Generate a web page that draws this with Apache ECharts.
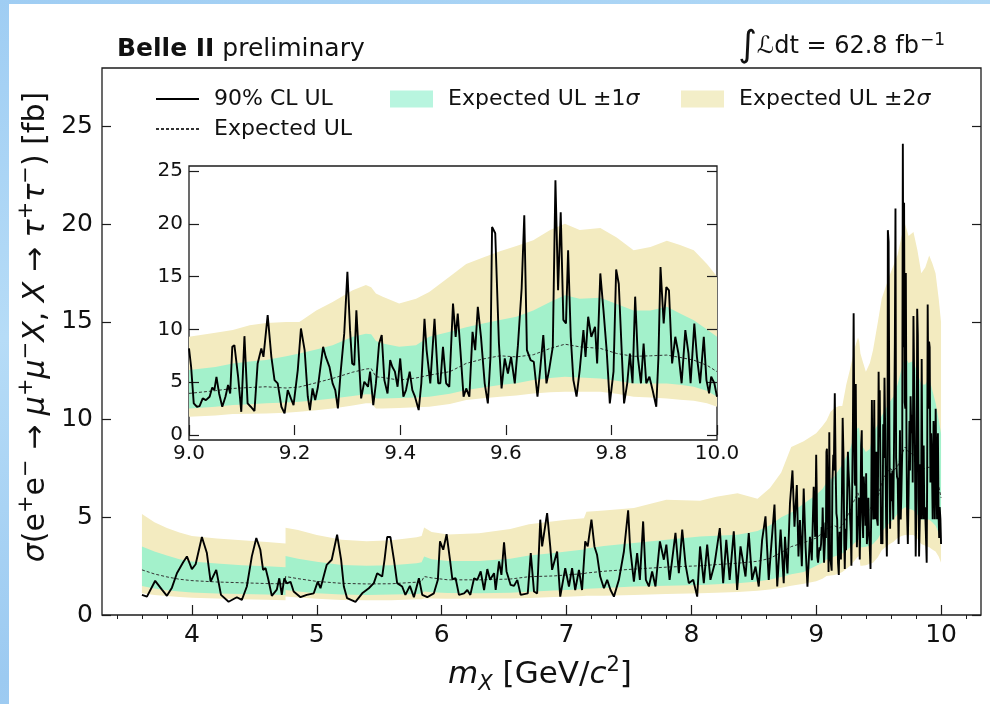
<!DOCTYPE html>
<html>
<head>
<meta charset="utf-8">
<script src="https://cdn.jsdelivr.net/npm/echarts@6/dist/echarts.min.js"></script>
<style>
  html, body { margin: 0; padding: 0; }
  body { width: 990px; height: 704px; overflow: hidden; position: relative;
         background: linear-gradient(165deg, #9fcdf3 0%, #b6dcf7 35%, #9ccaf1 70%, #a9d3f5 100%); }
  #panel { position: absolute; left: 9px; top: 4px; right: 0; bottom: 0; background: #fff; }
  #chart { position: absolute; left: 0; top: 0; width: 990px; height: 704px; }
</style>
</head>
<body>
<div id="panel"></div>
<div id="chart"></div>
<script>
// ---- Observed 90% CL upper limit [fb] vs m_X [GeV/c^2] ----
const massObs = [
  3.600, 3.640, 3.706, 3.760, 3.800, 3.840, 3.880, 3.930, 3.960, 4.000,
  4.030, 4.080, 4.120, 4.150, 4.195, 4.233, 4.294, 4.360, 4.400, 4.440,
  4.480, 4.516, 4.548, 4.570, 4.590, 4.610, 4.640, 4.680, 4.700, 4.720,
  4.740, 4.760, 4.790, 4.815, 4.870, 4.920, 4.976, 5.008, 5.030, 5.080,
  5.120, 5.163, 5.195, 5.217, 5.243, 5.310, 5.364, 5.417, 5.457, 5.484,
  5.524, 5.543, 5.564, 5.590, 5.618, 5.644, 5.684, 5.710, 5.746, 5.778,
  5.818, 5.845, 5.885, 5.938, 5.970, 5.987, 6.013, 6.040, 6.067, 6.086,
  6.112, 6.139, 6.180, 6.206, 6.230, 6.260, 6.286, 6.313, 6.340, 6.366,
  6.388, 6.420, 6.433, 6.460, 6.479, 6.500, 6.520, 6.553, 6.580, 6.606,
  6.633, 6.690, 6.714, 6.740, 6.765, 6.790, 6.805, 6.845, 6.870, 6.885,
  6.925, 6.950, 6.990, 7.020, 7.045, 7.070, 7.100, 7.125, 7.150, 7.170,
  7.200, 7.224, 7.245, 7.270, 7.300, 7.326, 7.353, 7.380, 7.420, 7.460,
  7.494, 7.510, 7.540, 7.566, 7.588, 7.614, 7.636, 7.660, 7.686, 7.713,
  7.748, 7.780, 7.800, 7.826, 7.845, 7.873, 7.900, 7.927, 7.954, 7.980,
  8.015, 8.047, 8.070, 8.100, 8.127, 8.153, 8.185, 8.228, 8.255, 8.280,
  8.307, 8.340, 8.367, 8.394, 8.434, 8.460, 8.487, 8.514, 8.540, 8.567,
  8.594, 8.620, 8.640, 8.666, 8.688, 8.715, 8.740, 8.750, 8.770, 8.790,
  8.810, 8.826, 8.845, 8.858, 8.870, 8.885, 8.900, 8.915, 8.930, 8.950,
  8.965, 8.980, 8.992,
  9.000, 9.004, 9.009, 9.015, 9.020, 9.026, 9.032, 9.039, 9.044, 9.048,
  9.052, 9.057, 9.063, 9.069, 9.074, 9.078, 9.082, 9.086, 9.093, 9.099,
  9.105, 9.111, 9.117, 9.124, 9.130, 9.137, 9.141, 9.149, 9.156, 9.162,
  9.168, 9.175, 9.181, 9.187, 9.193, 9.198, 9.206, 9.212, 9.219, 9.225,
  9.229, 9.234, 9.239, 9.244, 9.249, 9.254, 9.259, 9.266, 9.272, 9.277,
  9.282, 9.287, 9.294, 9.300, 9.305, 9.309, 9.313, 9.317, 9.323, 9.326,
  9.332, 9.339, 9.343, 9.349, 9.354, 9.360, 9.365, 9.370, 9.376, 9.381,
  9.385, 9.390, 9.395, 9.400, 9.406, 9.411, 9.418, 9.423, 9.428, 9.435,
  9.440, 9.446, 9.450, 9.457, 9.465, 9.472, 9.476, 9.481, 9.487, 9.493,
  9.500, 9.505, 9.509, 9.514, 9.520, 9.525, 9.531, 9.537, 9.542, 9.547,
  9.553, 9.560, 9.566, 9.571, 9.574, 9.580, 9.587, 9.592, 9.598, 9.604,
  9.610, 9.617, 9.623, 9.630, 9.635, 9.640, 9.647, 9.653, 9.660, 9.665,
  9.671, 9.677, 9.682, 9.689, 9.694, 9.699, 9.704, 9.709, 9.714, 9.718,
  9.723, 9.728, 9.734, 9.740, 9.747, 9.751, 9.756, 9.762, 9.769, 9.773,
  9.779, 9.785, 9.791, 9.797, 9.804, 9.809, 9.814, 9.820, 9.824, 9.830,
  9.835, 9.840, 9.845, 9.850, 9.856, 9.861, 9.866, 9.872, 9.878, 9.885,
  9.889, 9.893, 9.899, 9.904, 9.909, 9.915, 9.921, 9.927, 9.933, 9.940,
  9.946, 9.950, 9.957, 9.962, 9.968, 9.975, 9.980, 9.985, 9.989, 9.995,
  10.000
];
const ulObs = [
  1.03, 0.94, 1.75, 1.30, 0.98, 1.40, 2.14, 2.70, 3.00, 2.35,
  2.60, 3.99, 3.17, 1.71, 2.31, 1.03, 0.68, 0.91, 0.77, 1.46,
  3.00, 3.94, 3.34, 2.31, 2.40, 1.88, 0.98, 1.30, 1.88, 1.03,
  1.88, 1.62, 1.70, 1.20, 0.91, 1.03, 1.11, 1.71, 1.37, 2.57,
  2.83, 4.11, 2.83, 1.46, 0.86, 0.67, 1.11, 1.37, 1.63, 2.14,
  1.97, 2.83, 3.99, 3.99, 2.83, 1.63, 1.46, 1.03, 1.49, 0.91,
  1.88, 1.03, 0.91, 1.11, 1.80, 3.77, 3.34, 4.14, 2.83, 1.83,
  1.88, 1.03, 1.11, 1.28, 1.03, 1.88, 1.80, 2.23, 1.28, 2.35,
  1.80, 2.14, 1.28, 2.74, 2.05, 3.72, 2.23, 1.54, 1.49, 1.80,
  1.03, 1.11, 3.17, 1.20, 1.10, 4.88, 3.51, 5.22, 3.51, 2.31,
  3.25, 0.94, 2.40, 1.46, 2.40, 1.28, 2.31, 1.28, 3.77, 3.51,
  4.88, 3.51, 3.08, 1.97, 1.37, 1.80, 1.28, 0.94, 1.80, 3.25,
  5.36, 3.42, 1.71, 3.17, 1.80, 4.79, 1.80, 1.46, 2.23, 1.46,
  3.77, 2.83, 3.60, 1.80, 2.74, 4.20, 2.14, 4.37, 2.57, 1.63,
  1.80, 0.94, 3.51, 1.63, 3.60, 1.80, 2.57, 4.45, 1.63, 3.85,
  1.80, 4.28, 1.28, 3.51, 1.97, 4.20, 1.80, 2.48, 1.46, 3.85,
  5.05, 1.80, 3.51, 5.65, 1.46, 4.37, 1.63, 4.00, 2.13, 5.72,
  7.40, 4.52, 6.65, 3.00, 4.86, 2.50, 6.48, 3.50, 1.45, 4.00,
  2.80, 6.56, 4.00,
  8.20, 6.46, 3.00, 2.68, 2.74, 3.47, 3.30, 3.63, 4.50, 4.25,
  5.50, 3.94, 2.68, 3.63, 4.73, 3.94, 8.35, 8.51, 5.52, 2.20,
  9.36, 3.00, 2.68, 2.27, 6.78, 8.20, 7.40, 11.35, 7.40, 5.20,
  4.89, 2.68, 2.05, 4.26, 3.47, 2.84, 6.15, 10.09, 8.04, 3.63,
  2.36, 4.41, 3.31, 4.50, 6.46, 8.35, 7.40, 6.46, 4.89, 4.26,
  2.52, 5.83, 9.62, 15.45, 9.93, 6.78, 6.62, 11.82, 6.15, 3.47,
  5.05, 4.57, 6.00, 2.84, 4.89, 8.67, 9.46, 5.20, 3.94, 7.09,
  6.46, 6.00, 4.57, 7.25, 3.63, 4.26, 6.00, 4.26, 3.63, 2.36,
  4.89, 11.00, 8.04, 4.89, 11.00, 4.90, 4.90, 8.35, 4.90, 4.57,
  12.45, 9.30, 11.50, 8.04, 3.63, 4.41, 3.63, 9.77, 8.04, 12.14,
  9.30, 4.90, 3.00, 7.40, 19.70, 19.10, 8.67, 4.41, 7.25, 5.83,
  7.40, 4.89, 8.51, 13.87, 20.81, 8.04, 7.09, 6.94, 3.63, 6.15,
  9.46, 4.89, 6.15, 8.35, 24.12, 13.70, 21.10, 10.90, 10.56, 17.50,
  9.30, 5.20, 3.63, 6.15, 9.93, 7.40, 11.20, 9.30, 10.25, 6.78,
  15.30, 11.80, 8.04, 3.00, 6.00, 15.67, 14.30, 7.40, 3.00, 4.90,
  7.72, 4.90, 13.10, 7.40, 4.90, 8.67, 4.90, 5.52, 4.26, 2.68,
  7.25, 15.90, 10.56, 14.00, 13.70, 6.78, 9.30, 7.72, 4.90, 9.93,
  7.72, 4.90, 10.56, 7.40, 4.90, 9.30, 5.20, 3.94, 5.52, 4.90,
  3.63
];

// ---- Expected limit and its 1 sigma / 2 sigma bands [fb] ----
const massBand = [
  3.60, 3.70, 3.80, 3.90, 4.00, 4.20, 4.40, 4.60, 4.75, 4.75,
  4.85, 5.00, 5.20, 5.40, 5.60, 5.80, 5.84, 5.86, 5.92, 6.05,
  6.30, 6.55, 6.70, 6.90, 7.00, 7.14, 7.16, 7.30, 7.54, 7.80,
  8.07, 8.20, 8.37, 8.53, 8.63, 8.72, 8.80, 8.90, 9.00, 9.05,
  9.083, 9.115, 9.146, 9.184, 9.209, 9.241, 9.272, 9.31, 9.335, 9.345,
  9.354, 9.367, 9.398, 9.43, 9.455, 9.494, 9.525, 9.557, 9.589, 9.62,
  9.652, 9.684, 9.712, 9.74, 9.779, 9.81, 9.842, 9.874, 9.905, 9.93,
  9.956, 9.981, 10.00
];
const ulExp = [
  2.31, 2.10, 1.95, 1.83, 1.76, 1.69, 1.65, 1.61, 1.59, 1.97,
  1.86, 1.72, 1.62, 1.59, 1.60, 1.68, 1.72, 1.97, 1.90, 1.80,
  1.80, 1.84, 1.96, 2.00, 2.05, 2.12, 2.15, 2.24, 2.35, 2.45,
  2.52, 2.58, 2.65, 2.75, 2.90, 3.20, 3.50, 3.70, 3.94, 4.20,
  4.41, 4.50, 4.57, 4.45, 4.55, 4.95, 5.36, 5.95, 6.25, 6.30,
  5.52, 5.45, 5.20, 5.40, 5.67, 6.00, 6.78, 7.20, 7.50, 7.40,
  7.60, 8.20, 8.60, 8.35, 8.20, 7.72, 7.45, 7.50, 7.57, 7.35,
  7.09, 6.60, 6.00
];
const sig1Lo = [
  1.49, 1.36, 1.27, 1.20, 1.15, 1.10, 1.07, 1.05, 1.03, 1.28,
  1.20, 1.11, 1.05, 1.03, 1.05, 1.08, 1.10, 1.20, 1.16, 1.12,
  1.11, 1.14, 1.19, 1.25, 1.28, 1.33, 1.35, 1.38, 1.46, 1.50,
  1.54, 1.58, 1.63, 1.72, 1.82, 1.95, 2.08, 2.20, 2.52, 2.68,
  2.84, 2.92, 3.00, 3.08, 3.15, 3.30, 3.47, 3.70, 3.85, 3.85,
  3.47, 3.47, 3.50, 3.55, 3.63, 3.90, 4.26, 4.50, 4.73, 4.90,
  5.20, 5.40, 5.52, 5.45, 5.36, 5.15, 4.89, 4.89, 4.89, 4.75,
  4.57, 4.20, 3.63
];
const sig1Hi = [
  3.51, 3.25, 3.05, 2.86, 2.74, 2.63, 2.55, 2.49, 2.45, 3.02,
  2.88, 2.73, 2.56, 2.52, 2.55, 2.65, 2.70, 3.00, 2.85, 2.76,
  2.76, 2.88, 3.05, 3.18, 3.25, 3.35, 3.40, 3.53, 3.68, 3.85,
  4.02, 4.06, 4.11, 4.30, 4.60, 5.00, 5.25, 5.70, 6.15, 6.45,
  6.78, 6.95, 7.10, 7.45, 7.72, 8.10, 8.50, 9.30, 9.60, 9.55,
  8.90, 8.67, 8.35, 8.50, 9.30, 9.77, 10.20, 10.56, 10.90, 11.20,
  11.80, 12.60, 13.24, 12.90, 13.00, 12.40, 11.80, 11.80, 12.14, 11.50,
  10.87, 10.00, 9.30
];
const sig2Lo = [
  1.11, 1.02, 0.97, 0.92, 0.88, 0.84, 0.81, 0.78, 0.76, 0.95,
  0.90, 0.83, 0.77, 0.75, 0.76, 0.80, 0.81, 0.85, 0.84, 0.83,
  0.84, 0.85, 0.87, 0.92, 0.94, 0.97, 0.98, 0.99, 1.03, 1.07,
  1.11, 1.14, 1.18, 1.24, 1.30, 1.40, 1.50, 1.60, 1.73, 1.85,
  1.99, 2.02, 2.05, 2.12, 2.20, 2.35, 2.52, 2.80, 3.00, 3.00,
  2.52, 2.52, 2.55, 2.62, 2.68, 2.95, 3.31, 3.48, 3.63, 3.75,
  3.94, 4.05, 4.10, 4.10, 4.10, 3.90, 3.63, 3.55, 3.47, 3.35,
  3.25, 3.00, 2.68
];
const sig2Hi = [
  5.17, 4.75, 4.45, 4.22, 4.05, 3.92, 3.83, 3.74, 3.66, 4.47,
  4.35, 4.10, 3.85, 3.78, 3.82, 3.98, 4.05, 4.48, 4.25, 4.12,
  4.18, 4.40, 4.65, 4.80, 4.88, 4.95, 5.28, 5.35, 5.48, 5.90,
  5.85, 6.05, 6.23, 5.95, 6.50, 7.30, 8.60, 8.90, 9.30, 9.68,
  9.95, 10.40, 10.60, 10.70, 10.70, 11.80, 12.60, 13.70, 14.20, 14.00,
  13.40, 13.10, 12.45, 12.90, 13.55, 15.00, 16.20, 16.80, 17.40, 17.90,
  18.44, 19.40, 20.00, 19.40, 19.60, 18.70, 17.50, 17.80, 18.40, 18.00,
  17.50, 16.20, 15.00
];

// ---- Tick values ----
const xTicksMain = [4, 5, 6, 7, 8, 9, 10];
const xMinorMain = [3.4, 3.6, 3.8, 4.2, 4.4, 4.6, 4.8, 5.2, 5.4, 5.6, 5.8,
  6.2, 6.4, 6.6, 6.8, 7.2, 7.4, 7.6, 7.8, 8.2, 8.4, 8.6, 8.8,
  9.2, 9.4, 9.6, 9.8, 10.2];
const yTicksMain = [0, 5, 10, 15, 20, 25];
const xTicksInset = [9.0, 9.2, 9.4, 9.6, 9.8, 10.0];
const yTicksInset = [0, 5, 10, 15, 20, 25];

// ---- Styling ----
const FONT = 'DejaVu Sans';
const INK = '#111';
const FRAME = '#1c1c1c';
const GREEN = '#a3f1cb';
const YELLOW = '#f3ebc0';

const obsPairs = massObs.map((m, i) => [m, ulObs[i]]);
const expPairs = massBand.map((m, i) => [m, ulExp[i]]);

// One filled polygon per band: upper edge left to right, lower edge back.
function bandSeries(name, lo, hi, color, xi, yi, z, xMin) {
  const rows = massBand.map((m, i) => [m, lo[i], hi[i]]).filter(r => r[0] >= xMin);
  return {
    type: 'custom', name: name, xAxisIndex: xi, yAxisIndex: yi, z: z,
    silent: true, animation: false,
    itemStyle: { color: color },
    encode: { x: 0, y: [1, 2] },
    data: rows,
    renderItem: function (params, api) {
      if (params.dataIndex !== 0) return null;
      const upper = rows.map(r => api.coord([r[0], r[2]]));
      const lower = rows.map(r => api.coord([r[0], r[1]])).reverse();
      return { type: 'polygon', shape: { points: upper.concat(lower) },
               style: { fill: color } };
    }
  };
}

function lineSeries(name, data, xi, yi, z, style) {
  return { type: 'line', name: name, xAxisIndex: xi, yAxisIndex: yi, z: z,
           data: data, symbol: 'none', showSymbol: false, silent: true,
           animation: false, lineStyle: style, itemStyle: { color: style.color } };
}

const obsStyle = { color: '#000', width: 1.9 };
const expStyle = { color: '#333', width: 1, type: [3, 2] };

function tickAxis(extra) {
  return Object.assign({
    type: 'value', splitLine: { show: false }, axisLine: { show: false },
    axisTick: { show: true, inside: true, length: 9, lineStyle: { color: FRAME, width: 1.2 } },
    axisLabel: { show: false }
  }, extra);
}

const chart = echarts.init(document.getElementById('chart'), null, { renderer: 'canvas' });

const legendText = { fontFamily: FONT, fontSize: 22, color: INK, padding: [0, 0, 0, 10],
                     rich: { i: { fontFamily: FONT, fontSize: 22, fontStyle: 'italic', color: INK } } };
function legendBox(left, top, name, icon, color) {
  const item = { name: name };
  if (icon) { item.icon = icon; item.itemStyle = { color: color }; }
  else { item.itemStyle = { color: 'rgba(0,0,0,0)', borderWidth: 0 }; }
  return { left: left, top: top, padding: 0, itemWidth: 43, itemHeight: 17, selectedMode: false,
           data: [item], textStyle: legendText,
           formatter: n => n.replace('σ', '{i|σ}') };
}

const ital = size => ({ fontFamily: FONT, fontSize: size, fontStyle: 'italic', fill: INK });

chart.setOption({
  animation: false,
  textStyle: { fontFamily: FONT },
  grid: [
    { left: 102, top: 68, width: 879, height: 547, show: true, borderColor: FRAME, borderWidth: 1.3,
      backgroundColor: 'transparent' },
    { left: 189, top: 166, width: 528, height: 274, show: true, borderColor: FRAME, borderWidth: 1.3,
      backgroundColor: '#ffffff', z: 5 }
  ],
  xAxis: [
    tickAxis({ gridIndex: 0, min: 3.28, max: 10.32,
      axisTick: { show: true, inside: true, length: 10, customValues: xTicksMain,
                  lineStyle: { color: FRAME, width: 1.2 } },
      axisLabel: { show: true, customValues: xTicksMain, fontSize: 25, color: INK, margin: 8, fontFamily: FONT } }),
    tickAxis({ gridIndex: 0, min: 3.28, max: 10.32,
      axisTick: { show: true, inside: true, length: 4, customValues: xMinorMain,
                  lineStyle: { color: FRAME, width: 1 } } }),
    tickAxis({ gridIndex: 1, min: 9, max: 10, z: 8,
      axisTick: { show: true, inside: true, length: 10, customValues: xTicksInset,
                  lineStyle: { color: FRAME, width: 1.2 } },
      axisLabel: { show: true, customValues: xTicksInset, fontSize: 20, color: INK, margin: 4, fontFamily: FONT,
                   formatter: v => v.toFixed(1) } })
  ],
  yAxis: [
    tickAxis({ gridIndex: 0, min: 0, max: 28,
      axisTick: { show: true, inside: true, length: 9, customValues: yTicksMain,
                  lineStyle: { color: FRAME, width: 1.2 } },
      axisLabel: { show: true, customValues: yTicksMain, fontSize: 25, color: INK, margin: 9, fontFamily: FONT } }),
    tickAxis({ gridIndex: 0, min: 0, max: 28, position: 'right',
      axisTick: { show: true, inside: true, length: 9, customValues: yTicksMain,
                  lineStyle: { color: FRAME, width: 1.2 } } }),
    tickAxis({ gridIndex: 1, min: -0.47, max: 25.47, z: 8,
      axisTick: { show: true, inside: true, length: 10, customValues: yTicksInset,
                  lineStyle: { color: FRAME, width: 1.2 } },
      axisLabel: { show: true, customValues: yTicksInset, fontSize: 20, color: INK, margin: 6, fontFamily: FONT } }),
    tickAxis({ gridIndex: 1, min: -0.47, max: 25.47, position: 'right', z: 8,
      axisTick: { show: true, inside: true, length: 10, customValues: yTicksInset,
                  lineStyle: { color: FRAME, width: 1.2 } } })
  ],
  legend: [
    legendBox(155, 88, '90% CL UL'),
    legendBox(390, 88, 'Expected UL ±1σ', 'rect', '#b8f5df'),
    legendBox(681, 88, 'Expected UL ±2σ', 'rect', '#f3eec8'),
    legendBox(155, 118, 'Expected UL')
  ],
  graphic: [
    { type: 'text', x: 117, y: 49, z: 10,
      style: { text: '{b|Belle II} preliminary', fill: INK, font: '25px "DejaVu Sans"',
               verticalAlign: 'middle', align: 'left',
               rich: { b: { fontWeight: 'bold', fontSize: 25, fontFamily: FONT, fill: INK } } } },
    { type: 'text', x: 945, y: 47, z: 10,
      style: { text: '{int|∫}ℒdt = 62.8 fb{p|−1}', fill: INK, font: '24px "DejaVu Sans"',
               align: 'right', verticalAlign: 'middle', lineHeight: 36,
               rich: { int: { fontFamily: FONT, fontSize: 36, fill: INK, lineHeight: 36 },
                       p: { fontFamily: FONT, fontSize: 17, fill: INK, verticalAlign: 'top', padding: [3, 0, 0, 1] } } } },
    { type: 'text', x: 540, y: 675, z: 10,
      style: { text: '{i|m}{s|X} [GeV/{i|c}{p|2}]', fill: INK, font: '31px "DejaVu Sans"',
               align: 'center', verticalAlign: 'middle', lineHeight: 40,
               rich: { i: Object.assign(ital(31), { lineHeight: 40 }),
                       s: Object.assign(ital(21), { verticalAlign: 'bottom' }),
                       p: { fontFamily: FONT, fontSize: 21, fill: INK, verticalAlign: 'top' } } } },
    { type: 'text', x: 36, y: 327, z: 10, rotation: Math.PI / 2,
      style: { text: '{i|σ}(e{p|+}e{p|−} → {i|μ}{p|+}{i|μ}{p|−}{i|X}, {i|X} → {i|τ}{p|+}{i|τ}{p|−}) [fb]',
               fill: INK, font: '30px "DejaVu Sans"', align: 'center', verticalAlign: 'middle', lineHeight: 40,
               rich: { i: Object.assign(ital(30), { lineHeight: 40 }),
                       p: { fontFamily: FONT, fontSize: 21, fill: INK, verticalAlign: 'top' } } } }
  ],
  series: [
    bandSeries('Expected UL ±2σ', sig2Lo, sig2Hi, YELLOW, 0, 0, 1, 0),
    bandSeries('Expected UL ±1σ', sig1Lo, sig1Hi, GREEN, 0, 0, 2, 0),
    lineSeries('Expected UL', expPairs, 0, 0, 3, expStyle),
    lineSeries('90% CL UL', obsPairs, 0, 0, 4, obsStyle),
    bandSeries('Expected UL ±2σ', sig2Lo, sig2Hi, YELLOW, 2, 2, 6, 9),
    bandSeries('Expected UL ±1σ', sig1Lo, sig1Hi, GREEN, 2, 2, 7, 9),
    lineSeries('Expected UL', expPairs.filter(p => p[0] >= 9), 2, 2, 8, expStyle),
    lineSeries('90% CL UL', obsPairs.filter(p => p[0] >= 9), 2, 2, 9, obsStyle)
  ]
});
</script>
</body>
</html>
